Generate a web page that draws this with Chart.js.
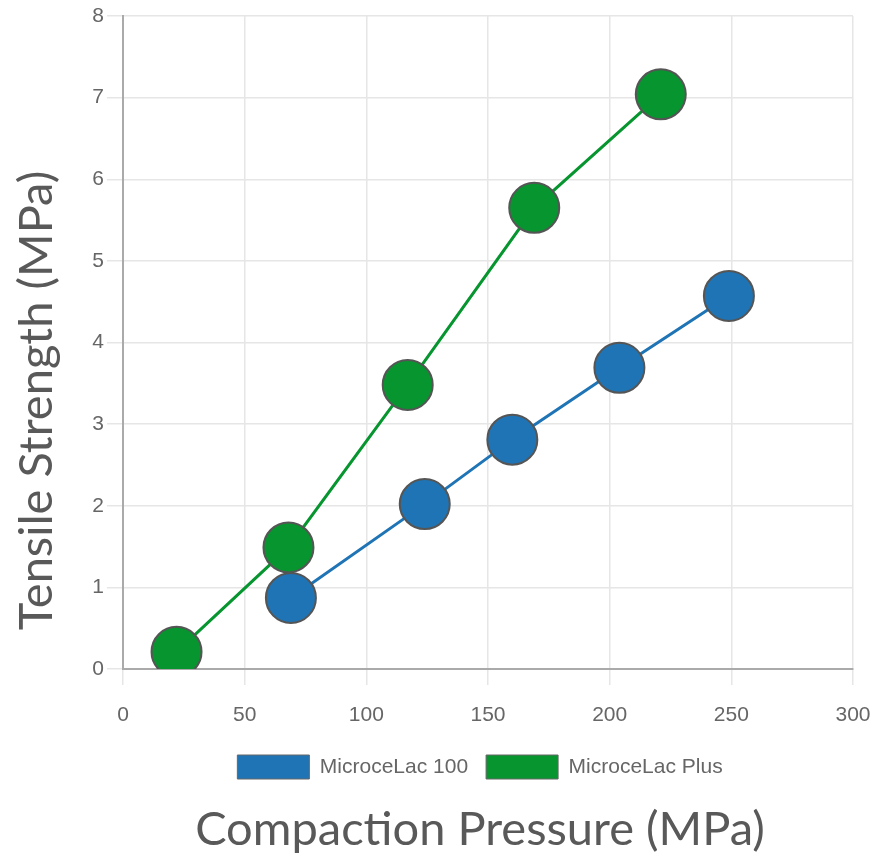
<!DOCTYPE html>
<html lang="en">
<head>
  <meta charset="UTF-8">
  <title>Tensile Strength vs Compaction Pressure</title>
  <style>
    html, body { margin: 0; padding: 0; background: #fff; }
  </style>
</head>
<body>
  <canvas id="tsChart" width="872" height="862"></canvas>

  <script src="https://cdn.jsdelivr.net/npm/chart.js@4.4.0/dist/chart.umd.min.js"></script>
  <script>
    // values
    const seriesNames = ['MicroceLac 100', 'MicroceLac Plus'];
    const pressure100 = [69, 124, 160, 204, 249];
    const strength100 = [0.87, 2.02, 2.81, 3.69, 4.57];
    const pressurePlus = [22, 68, 117, 169, 221];
    const strengthPlus = [0.21, 1.49, 3.48, 5.65, 7.04];
    const xTitle = 'Compaction Pressure (MPa)';
    const yTitle = 'Tensile Strength (MPa)';

    const blue = '#1f74b5';
    const green = '#07952f';
    const titleFont = "Lato, 'Open Sans', sans-serif";

    const toPoints = (xs, ys) => xs.map((x, i) => ({ x: x, y: ys[i] }));

    // y title drawn by hand so it can sit off-centre like the original
    const yTitlePlugin = {
      id: 'yTitle',
      afterDraw(chart) {
        const { ctx, chartArea } = chart;
        ctx.save();
        ctx.translate(chartArea.left - 86, (chartArea.top + chartArea.bottom) / 2 + 58);
        ctx.rotate(-Math.PI / 2);
        ctx.font = '47px ' + titleFont;
        ctx.fillStyle = '#595959';
        ctx.textAlign = 'center';
        ctx.textBaseline = 'middle';
        ctx.fillText(yTitle, 0, 0);
        ctx.restore();
      }
    };

    // legend and bottom title are centred a bit left of the plot in the original
    const centreShift = {
      id: 'centreShift',
      afterLayout(chart) {
        [chart.legend, chart.titleBlock].forEach(box => {
          const dx = 480 - (box.left + box.right) / 2;
          box.left += dx;
          box.right += dx;
        });
      }
    };

    const ctx = document.getElementById('tsChart').getContext('2d');
    new Chart(ctx, {
      type: 'line',
      data: {
        datasets: [
          {
            label: seriesNames[0],
            data: toPoints(pressure100, strength100),
            borderColor: blue,
            backgroundColor: blue,
            borderWidth: 3,
            pointRadius: 25,
            pointHoverRadius: 25,
            pointBackgroundColor: blue,
            pointBorderColor: '#555',
            pointBorderWidth: 2
          },
          {
            label: seriesNames[1],
            data: toPoints(pressurePlus, strengthPlus),
            borderColor: green,
            backgroundColor: green,
            borderWidth: 3,
            pointRadius: 25,
            pointHoverRadius: 25,
            pointBackgroundColor: green,
            pointBorderColor: '#555',
            pointBorderWidth: 2
          }
        ]
      },
      options: {
        responsive: false,
        animation: false,
        devicePixelRatio: 1,
        layout: { autoPadding: false, padding: { left: 88, right: 19, top: 16, bottom: 0 } },
        scales: {
          x: {
            type: 'linear',
            min: 0,
            max: 300,
            afterFit(scale) { scale.height = 68; scale.paddingLeft = 0; scale.paddingRight = 0; },
            ticks: { stepSize: 50, color: '#666', padding: 18, maxRotation: 0, font: { family: 'Liberation Sans', size: 21 } },
            grid: { color: '#e6e6e6', lineWidth: 1.5, tickLength: 16 },
            border: { color: '#aaa', width: 2 }
          },
          y: {
            min: 0,
            max: 8,
            afterFit(scale) { scale.width = 35; scale.paddingTop = 0; scale.paddingBottom = 0; },
            ticks: { stepSize: 1, color: '#666', padding: 3, font: { family: 'Liberation Sans', size: 21 } },
            grid: { color: '#e6e6e6', lineWidth: 1.5, tickLength: 16 },
            border: { color: '#aaa', width: 2 }
          }
        },
        plugins: {
          legend: {
            position: 'bottom',
            labels: {
              boxWidth: 72,
              boxHeight: 24,
              padding: 18,
              color: '#666',
              font: { family: 'Liberation Sans', size: 21 },
              generateLabels(chart) {
                const items = Chart.defaults.plugins.legend.labels.generateLabels(chart);
                items.forEach(it => { it.strokeStyle = '#666'; it.lineWidth = 1; });
                return items;
              }
            }
          },
          title: {
            display: true,
            position: 'bottom',
            text: xTitle,
            color: '#595959',
            font: { family: titleFont, size: 47, weight: 'normal' },
            padding: { top: 12.6, bottom: 4 }
          },
          tooltip: { enabled: false }
        }
      },
      plugins: [yTitlePlugin, centreShift]
    });
  </script>
</body>
</html>
